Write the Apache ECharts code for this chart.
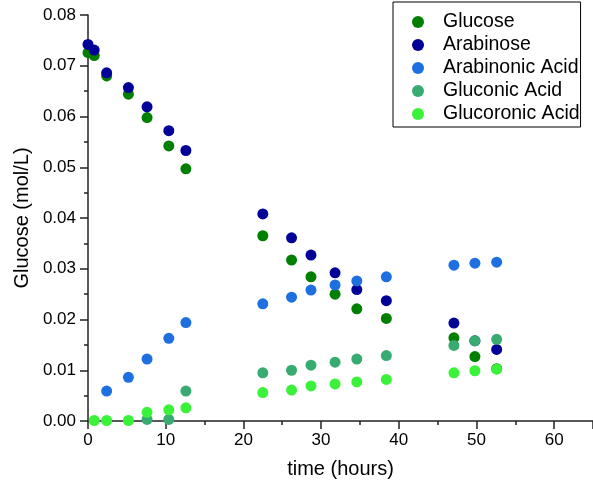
<!DOCTYPE html>
<html>
<head>
<meta charset="utf-8">
<script src="https://cdn.jsdelivr.net/npm/echarts@6/dist/echarts.min.js"></script>
<style>
  html, body { margin: 0; padding: 0; background: #fff; }
  #chart { width: 593px; height: 488px; }
</style>
</head>
<body>
<div id="chart"></div>
<script>
// Sampling times (hours) and measured concentrations (mol/L)
const seriesNames = ['Glucose', 'Arabinose', 'Arabinonic Acid', 'Gluconic Acid', 'Glucoronic Acid'];
const seriesColors = ['#007f00', '#000099', '#1e70e0', '#38ac70', '#3af23a'];

const glucoseTimes   = [0, 0.8, 2.4, 5.2, 7.6, 10.4, 12.6, 22.5, 26.2, 28.7, 31.8, 34.6, 38.4, 47.1, 49.8, 52.6];
const glucose        = [0.0726, 0.0720, 0.0680, 0.0644, 0.0598, 0.0542, 0.0497, 0.0365, 0.0317, 0.0284, 0.0250, 0.0221, 0.0202, 0.0164, 0.0127, 0.0103];

const arabinoseTimes = [0, 0.8, 2.4, 5.2, 7.6, 10.4, 12.6, 22.5, 26.2, 28.7, 31.8, 34.6, 38.4, 47.1, 49.8, 52.6];
const arabinose      = [0.0742, 0.0731, 0.0686, 0.0657, 0.0619, 0.0572, 0.0533, 0.0408, 0.0361, 0.0327, 0.0292, 0.0259, 0.0237, 0.0193, 0.0158, 0.0141];

const arabinonicTimes = [2.4, 5.2, 7.6, 10.4, 12.6, 22.5, 26.2, 28.7, 31.8, 34.6, 38.4, 47.1, 49.8, 52.6];
const arabinonic      = [0.0059, 0.0086, 0.0122, 0.0163, 0.0194, 0.0231, 0.0244, 0.0258, 0.0268, 0.0276, 0.0284, 0.0307, 0.0311, 0.0313];

const gluconicTimes = [7.6, 10.4, 12.6, 22.5, 26.2, 28.7, 31.8, 34.6, 38.4, 47.1, 49.8, 52.6];
const gluconic      = [0.0003, 0.0003, 0.0059, 0.0095, 0.0100, 0.0110, 0.0116, 0.0122, 0.0129, 0.0149, 0.0158, 0.0161];

const glucoronicTimes = [0.8, 2.4, 5.2, 7.6, 10.4, 12.6, 22.5, 26.2, 28.7, 31.8, 34.6, 38.4, 47.1, 49.8, 52.6];
const glucoronic      = [0.0001, 0.0001, 0.0001, 0.0017, 0.0022, 0.0026, 0.0056, 0.0061, 0.0069, 0.0073, 0.0077, 0.0082, 0.0095, 0.0099, 0.0102];

const allTimes  = [glucoseTimes, arabinoseTimes, arabinonicTimes, gluconicTimes, glucoronicTimes];
const allValues = [glucose, arabinose, arabinonic, gluconic, glucoronic];

const xTickLabels = ['0', '10', '20', '30', '40', '50', '60'];

const font = 'Liberation Sans, Arial, sans-serif';
const axisColor = '#222';

const chart = echarts.init(document.getElementById('chart'), null, { renderer: 'canvas' });

const series = seriesNames.map((name, i) => ({
  name: name,
  type: 'scatter',
  symbol: 'circle',
  symbolSize: 11,
  itemStyle: { color: seriesColors[i], opacity: 1 },
  emphasis: { disabled: true },
  data: allTimes[i].map((t, k) => [t, allValues[i][k]])
}));

chart.setOption({
  animation: false,
  backgroundColor: '#fff',
  grid: { left: 88, right: 0, top: 15, bottom: 67, containLabel: false },
  legend: {
    orient: 'vertical',
    left: 393,
    top: 2,
    padding: [10, 1, 3, 19],
    itemGap: 3,
    itemWidth: 40,
    itemHeight: 12,
    icon: 'circle',
    borderColor: '#000',
    borderWidth: 1,
    data: seriesNames,
    textStyle: { fontFamily: font, fontSize: 19.5, color: '#000', padding: [0, 0, 0, 0] }
  },
  xAxis: {
    type: 'value',
    min: 0,
    max: 65,
    interval: 10,
    name: 'time (hours)',
    nameLocation: 'middle',
    nameGap: 38,
    nameTextStyle: { fontFamily: font, fontSize: 20, color: '#000' },
    axisLine: { show: true, onZero: false, lineStyle: { color: axisColor, width: 1.5 } },
    axisTick: { show: true, inside: false, length: 8, lineStyle: { color: axisColor, width: 1.5 } },
    minorTick: { show: true, splitNumber: 2, length: 4, lineStyle: { color: axisColor, width: 1.5 } },
    splitLine: { show: false },
    axisLabel: {
      fontFamily: font, fontSize: 17, color: '#000', margin: 11,
      showMaxLabel: false,
      formatter: v => xTickLabels.includes(String(v)) ? String(v) : ''
    }
  },
  yAxis: {
    type: 'value',
    min: 0,
    max: 0.08,
    interval: 0.01,
    name: 'Glucose (mol/L)',
    nameLocation: 'middle',
    nameGap: 52,
    nameTextStyle: { fontFamily: font, fontSize: 20, color: '#000' },
    axisLine: { show: true, lineStyle: { color: axisColor, width: 1.5 } },
    axisTick: { show: true, inside: false, length: 8, lineStyle: { color: axisColor, width: 1.5 } },
    minorTick: { show: true, splitNumber: 2, length: 4, lineStyle: { color: axisColor, width: 1.5 } },
    splitLine: { show: false },
    axisLabel: {
      fontFamily: font, fontSize: 17, color: '#000', margin: 12,
      formatter: v => v.toFixed(2)
    }
  },
  series: series
});
</script>
</body>
</html>
